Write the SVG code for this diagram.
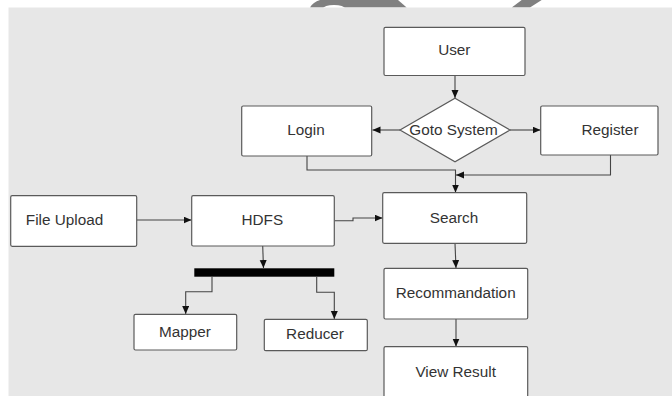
<svg xmlns="http://www.w3.org/2000/svg" width="672" height="396" viewBox="0 0 672 396">
<style>
.box{fill:#ffffff;stroke:#5a5a5a;stroke-width:1.2}
.lbl{font-family:"Liberation Sans",Arial,sans-serif;font-size:15.3px;fill:#333333;text-anchor:middle}
.con{fill:none;stroke:#444444;stroke-width:1.1;marker-end:url(#ah)}
.wm{fill:#808080}
</style>
<defs>
<marker id="ah" markerUnits="userSpaceOnUse" markerWidth="9" markerHeight="8" refX="8" refY="3.5" orient="auto">
<path d="M0,0 L8,3.5 L0,7 z" fill="#111111"/>
</marker>
</defs>
<rect x="0" y="0" width="672" height="396" fill="#ffffff"/>
<g id="watermark">
<path class="wm" d="M310,7.5 Q313,2 320,0 L398,0 L406.7,7.5 Z"/>
<ellipse cx="334" cy="8.5" rx="11" ry="3.5" fill="#ffffff"/>
<path class="wm" d="M511.7,7.5 L521.7,0 L541.7,0 L530,7.5 Z"/>
</g>
<rect x="8.5" y="7.5" width="664" height="389" fill="#e7e7e7"/>

<g id="connectors">
<path class="con" d="M455,75.5 V98"/>
<path class="con" d="M400,130 H372.5"/>
<path class="con" d="M510,130 H540.5"/>
<path class="con" d="M307,156 V170 H455.5 V192.5"/>
<path class="con" d="M610.5,155 V175 H456"/>
<path class="con" d="M137,220 H191.5"/>
<path class="con" d="M334.5,220.7 H353 V218 H382.5"/>
<path class="con" d="M262.7,246 L263.5,268"/>
<path class="con" d="M455,243.5 L456,268"/>
<path class="con" d="M456,319 V346.5"/>
<path class="con" d="M212,277 V291.7 H185.7 V314"/>
<path class="con" d="M316.7,277 V292.3 H334.3 V319"/>
</g>

<g id="user">
<rect class="box" x="384" y="27.3" width="141" height="48.2" rx="1.5"/>
<text class="lbl" x="454.3" y="55">User</text>
</g>
<g id="goto-system">
<polygon class="box" points="455,98.3 510,130 455,161.7 400,130"/>
<text class="lbl" x="453.5" y="135">Goto System</text>
</g>
<g id="login">
<rect class="box" x="241.7" y="106" width="130" height="50" rx="1.5"/>
<text class="lbl" x="306" y="135">Login</text>
</g>
<g id="register">
<rect class="box" x="540.7" y="106" width="117.3" height="49" rx="1.5"/>
<text class="lbl" x="610" y="135">Register</text>
</g>
<g id="file-upload">
<rect class="box" x="10.7" y="195.7" width="126" height="50.6" rx="1.5"/>
<text class="lbl" x="64.5" y="225">File Upload</text>
</g>
<g id="hdfs">
<rect class="box" x="191.7" y="195.7" width="142.6" height="50.3" rx="1.5"/>
<text class="lbl" x="262.3" y="225">HDFS</text>
</g>
<g id="search">
<rect class="box" x="382.7" y="192.7" width="144" height="50.6" rx="1.5"/>
<text class="lbl" x="454" y="222.5">Search</text>
</g>
<g id="fork-bar">
<rect x="194.3" y="268.3" width="140" height="8.4" fill="#000000"/>
</g>
<g id="recommandation">
<rect class="box" x="384" y="268.3" width="143.7" height="50.7" rx="1.5"/>
<text class="lbl" x="455.7" y="298.3">Recommandation</text>
</g>
<g id="view-result">
<rect class="box" x="384" y="346.7" width="143.7" height="60" rx="1.5"/>
<text class="lbl" x="455.7" y="376.5">View Result</text>
</g>
<g id="mapper">
<rect class="box" x="134" y="314.3" width="102.7" height="35.7" rx="1.5"/>
<text class="lbl" x="185" y="336.7">Mapper</text>
</g>
<g id="reducer">
<rect class="box" x="264.3" y="319.3" width="103" height="31.4" rx="1.5"/>
<text class="lbl" x="315" y="339.3">Reducer</text>
</g>
</svg>
